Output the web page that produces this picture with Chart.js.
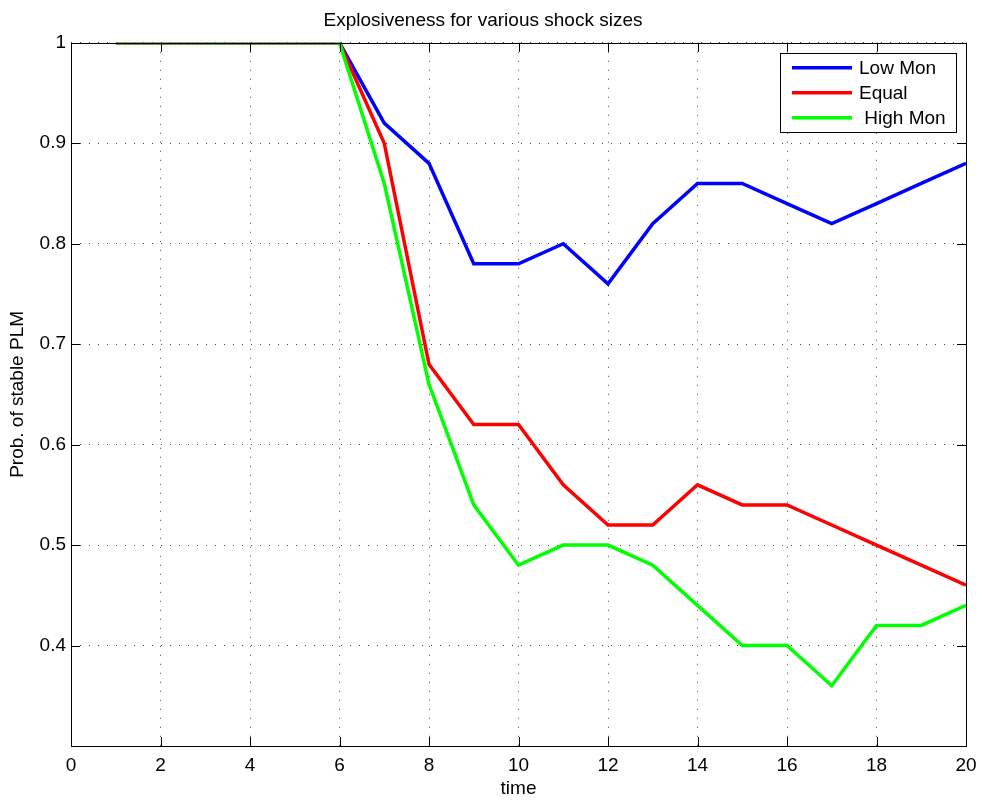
<!DOCTYPE html>
<html>
<head>
<meta charset="utf-8">
<script src="https://cdn.jsdelivr.net/npm/chart.js@4.4.0/dist/chart.umd.min.js"></script>
<style>
  body { margin: 0; background: #fff; }
  canvas { display: block; }
</style>
</head>
<body>
<canvas id="myChart" width="982" height="800"></canvas>
<script>
// values
const timeSteps = [1, 2, 3, 4, 5, 6, 7, 8, 9, 10, 11, 12, 13, 14, 15, 16, 17, 18, 19, 20];
const lowMon = [1, 1, 1, 1, 1, 1, 0.92, 0.88, 0.78, 0.78, 0.80, 0.76, 0.82, 0.86, 0.86, 0.84, 0.82, 0.84, 0.86, 0.88];
const equal = [1, 1, 1, 1, 1, 1, 0.90, 0.68, 0.62, 0.62, 0.56, 0.52, 0.52, 0.56, 0.54, 0.54, 0.52, 0.50, 0.48, 0.46];
const highMon = [1, 1, 1, 1, 1, 1, 0.86, 0.66, 0.54, 0.48, 0.50, 0.50, 0.48, 0.44, 0.40, 0.40, 0.36, 0.42, 0.42, 0.44];
const seriesNames = ["Low Mon", "Equal", " High Mon"];
const seriesColors = ["#0000ff", "#ff0000", "#00ff00"];

const FONT = "'Liberation Sans', Arial, sans-serif";
const ctx = document.getElementById("myChart");

const toPoints = (vals) => vals.map((v, i) => ({ x: timeSteps[i], y: v }));

// box round the axes with inward ticks, like matlab
const boxPlugin = {
  id: "box",
  afterDraw: (chart) => {
    const c = chart.ctx;
    const a = chart.chartArea;
    const xs = chart.scales.x;
    const ys = chart.scales.y;
    const tl = 9;
    c.save();
    c.strokeStyle = "#000";
    c.lineWidth = 1;
    c.beginPath();
    xs.ticks.forEach((t) => {
      const px = Math.round(xs.getPixelForValue(t.value)) + 0.5;
      c.moveTo(px, a.bottom);
      c.lineTo(px, a.bottom - tl);
      c.moveTo(px, a.top);
      c.lineTo(px, a.top + tl);
    });
    ys.ticks.forEach((t) => {
      const py = Math.round(ys.getPixelForValue(t.value)) + 0.5;
      c.moveTo(a.left, py);
      c.lineTo(a.left + tl, py);
      c.moveTo(a.right, py);
      c.lineTo(a.right - tl, py);
    });
    c.stroke();
    c.strokeRect(Math.round(a.left) + 0.5, Math.round(a.top) + 0.5,
      Math.round(a.right - a.left), Math.round(a.bottom - a.top));
    c.restore();
  },
};

// legend box in the top right corner
const legendPlugin = {
  id: "boxLegend",
  afterDraw: (chart) => {
    const c = chart.ctx;
    const a = chart.chartArea;
    const w = 176, h = 79;
    const x0 = a.right - 10 - w;
    const y0 = a.top + 10;
    c.save();
    c.fillStyle = "#fff";
    c.fillRect(x0, y0, w, h);
    c.strokeStyle = "#000";
    c.lineWidth = 1;
    c.strokeRect(Math.round(x0) + 0.5, Math.round(y0) + 0.5, w, h);
    c.font = "19px " + FONT;
    c.textBaseline = "middle";
    c.textAlign = "left";
    chart.data.datasets.forEach((ds, i) => {
      const ry = y0 + 15 + i * 25;
      c.strokeStyle = ds.borderColor;
      c.lineWidth = 3.5;
      c.beginPath();
      c.moveTo(x0 + 12, ry);
      c.lineTo(x0 + 72, ry);
      c.stroke();
      c.fillStyle = "#000";
      c.fillText(ds.label, x0 + 79, ry + 1);
    });
    c.restore();
  },
};

new Chart(ctx, {
  type: "line",
  data: {
    datasets: [lowMon, equal, highMon].map((vals, i) => ({
      label: seriesNames[i],
      data: toPoints(vals),
      borderColor: seriesColors[i],
      backgroundColor: seriesColors[i],
      borderWidth: 3.5,
      pointRadius: 0,
      tension: 0,
      fill: false,
      order: 2 - i, // later series drawn on top
    })),
  },
  options: {
    responsive: false,
    animation: false,
    layout: { padding: { left: 0, right: 16, top: 0, bottom: 0 } },
    plugins: {
      legend: { display: false },
      tooltip: { enabled: false },
      title: {
        display: true,
        text: "Explosiveness for various shock sizes",
        color: "#000",
        font: { family: FONT, size: 19, weight: "normal" },
        padding: { top: 9, bottom: 11 },
      },
    },
    scales: {
      x: {
        type: "linear",
        min: 0,
        max: 20,
        afterFit: (s) => {
          s.height = 54;
          s.paddingLeft = 0;
          s.paddingRight = 0;
        },
        ticks: {
          stepSize: 2,
          autoSkip: false,
          maxRotation: 0,
          padding: 8,
          color: "#000",
          font: { family: FONT, size: 19 },
        },
        grid: { color: "rgba(0,0,0,0.7)", drawTicks: false, lineWidth: 1 },
        border: { display: false, dash: [1, 8] },
        title: {
          display: true,
          text: "time",
          color: "#000",
          font: { family: FONT, size: 19 },
          padding: { top: 0, bottom: 0 },
        },
      },
      y: {
        min: 0.3,
        max: 1,
        afterFit: (s) => { s.width = 71; },
        ticks: {
          stepSize: 0.1,
          padding: 5,
          color: "#000",
          font: { family: FONT, size: 19 },
          callback: (v) => (v < 0.35 ? "" : String(Math.round(v * 10) / 10)),
        },
        grid: { color: "rgba(0,0,0,0.7)", drawTicks: false, lineWidth: 1 },
        border: { display: false, dash: [1, 8] },
        title: {
          display: true,
          text: "Prob. of stable PLM",
          color: "#000",
          font: { family: FONT, size: 19 },
          padding: { top: 6, bottom: 0 },
        },
      },
    },
  },
  plugins: [boxPlugin, legendPlugin],
});
</script>
</body>
</html>
